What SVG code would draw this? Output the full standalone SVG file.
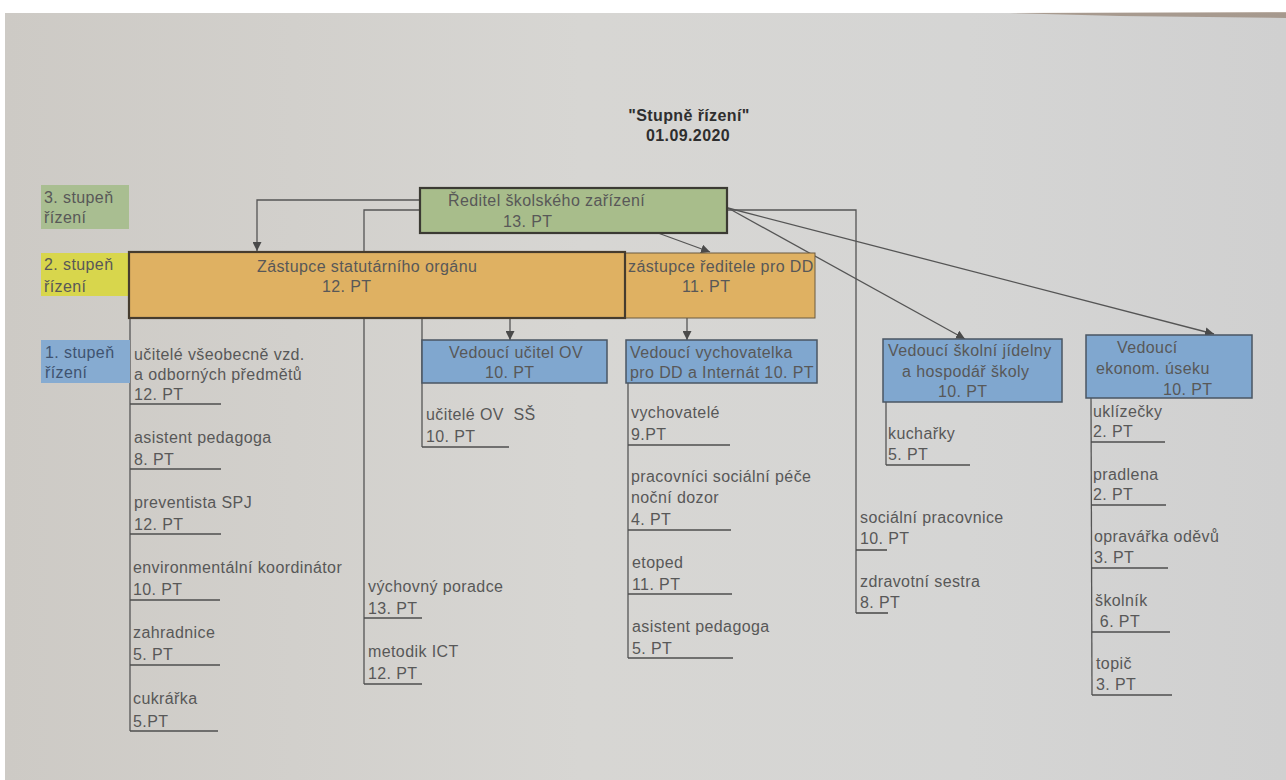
<svg xmlns="http://www.w3.org/2000/svg" width="1286" height="780" viewBox="0 0 1286 780">
<defs>
<linearGradient id="paper" x1="0" y1="0" x2="1" y2="0">
<stop offset="0" stop-color="#cdcac5"/>
<stop offset="0.45" stop-color="#d7d6d3"/>
<stop offset="0.75" stop-color="#d5d5d4"/>
<stop offset="1" stop-color="#d0d0d0"/>
</linearGradient>
<marker id="arr" markerWidth="9" markerHeight="9" refX="9" refY="4.5" orient="auto" markerUnits="userSpaceOnUse">
<path d="M0,0 L9,4.5 L0,9 z" fill="#4a4a4a"/>
</marker>
</defs>
<style>
text{font-family:"Liberation Sans",Arial,sans-serif;font-size:16px;letter-spacing:0.4px;fill:#585858}
.title{font-weight:bold;fill:#2e2e2e;text-anchor:middle}
.ln{fill:none;stroke:#555;stroke-width:1.3}
.ul{stroke:#4e4e4e;stroke-width:1.6}
.green{fill:#a8bd8b;stroke:#3b3a33;stroke-width:2.2}
.orange{fill:#dfb162;stroke:#463c2e;stroke-width:2.2}
.orange2{fill:#dfb162;stroke:#6a5a40;stroke-width:1}
.blue{fill:#80a7cf;stroke:#4a5663;stroke-width:1.5}
.lgreen{fill:#a9be91}
.lyellow{fill:#d8d64c}
.lblue{fill:#86abd1}
.btxt{fill:#3f5370}
</style>
<rect x="0" y="0" width="1286" height="780" fill="#ffffff"/>
<rect x="5" y="13" width="1281" height="767" fill="url(#paper)"/>
<path d="M1010,13 L1286,12 L1286,18 L1120,16 Z" fill="#8b7563" opacity="0.6"/>

<g id="title">
<text class="title" x="689" y="121">"Stupně řízení"</text>
<text class="title" x="688" y="141">01.09.2020</text>
</g>

<g id="connectors">
<polyline class="ln" points="420,200 257,200 257,251" marker-end="url(#arr)"/>
<polyline class="ln" points="420,210 364,210 364,684"/>
<line class="ln" x1="422" y1="318" x2="422" y2="447"/>
<line class="ln" x1="510" y1="318" x2="510" y2="340" marker-end="url(#arr)"/>
<line class="ln" x1="687" y1="318" x2="687" y2="340" marker-end="url(#arr)"/>
<line class="ln" x1="658" y1="233" x2="710" y2="252" marker-end="url(#arr)"/>
<polyline class="ln" points="728,210 856,210 856,613"/>
<line class="ln" x1="728" y1="208" x2="965" y2="339" marker-end="url(#arr)"/>
<line class="ln" x1="728" y1="208" x2="1214" y2="334" marker-end="url(#arr)"/>
<line class="ln" x1="130" y1="318" x2="130" y2="731"/>
<line class="ln" x1="628" y1="383" x2="628" y2="658"/>
<line class="ln" x1="886" y1="402" x2="886" y2="465"/>
<line class="ln" x1="1091" y1="398" x2="1092" y2="695"/>
</g>

<g id="level3">
<rect class="lgreen" x="41" y="185" width="88" height="44"/>
<text x="44" y="203">3. stupeň</text>
<text x="44" y="223">řízení</text>
</g>
<g id="level2">
<rect class="lyellow" x="41" y="253" width="88" height="43"/>
<text x="44" y="270">2. stupeň</text>
<text x="44" y="292">řízení</text>
</g>
<g id="level1">
<rect class="lblue" x="41" y="340" width="89" height="43"/>
<text class="btxt" x="45" y="358">1. stupeň</text>
<text class="btxt" x="45" y="378">řízení</text>
</g>

<g id="reditel">
<rect class="green" x="420" y="188" width="307" height="45"/>
<text x="448" y="206">Ředitel školského zařízení</text>
<text x="503" y="227">13. PT</text>
</g>

<g id="zastupce-dd">
<rect class="orange2" x="625" y="253" width="190" height="65"/>
<text x="628" y="272">zástupce ředitele pro DD</text>
<text x="682" y="292">11. PT</text>
</g>

<g id="zastupce-statutar">
<rect class="orange" x="129" y="252" width="496" height="66"/>
<text x="257" y="272">Zástupce statutárního orgánu</text>
<text x="322" y="292">12. PT</text>
</g>

<g id="vedouci-ov">
<rect class="blue" x="422" y="340" width="185" height="43"/>
<text x="449" y="358">Vedoucí učitel OV</text>
<text x="485" y="378">10. PT</text>
</g>

<g id="vedouci-vychovatelka">
<rect class="blue" x="626" y="340" width="191" height="43"/>
<text x="630" y="358">Vedoucí vychovatelka</text>
<text x="630" y="378">pro DD a Internát 10. PT</text>
</g>

<g id="vedouci-jidelny">
<rect class="blue" x="883" y="339" width="179" height="63"/>
<text x="888" y="356">Vedoucí školní jídelny</text>
<text x="902" y="377">a hospodář školy</text>
<text x="938" y="397">10. PT</text>
</g>

<g id="vedouci-ekonom">
<rect class="blue" x="1086" y="335" width="166" height="63"/>
<text x="1117" y="353">Vedoucí</text>
<text x="1096" y="374">ekonom. úseku</text>
<text x="1163" y="395">10. PT</text>
</g>

<g id="ucitele-vseobecne">
<text x="134" y="360">učitelé všeobecně vzd.</text>
<text x="134" y="380">a odborných předmětů</text>
<text x="134" y="400">12. PT</text>
<line class="ul" x1="130" y1="404" x2="221" y2="404"/>
</g>
<g id="asistent-pedagoga-1">
<text x="134" y="443">asistent pedagoga</text>
<text x="134" y="465">8. PT</text>
<line class="ul" x1="130" y1="469" x2="221" y2="469"/>
</g>
<g id="preventista">
<text x="134" y="508">preventista SPJ</text>
<text x="134" y="530">12. PT</text>
<line class="ul" x1="130" y1="534" x2="221" y2="534"/>
</g>
<g id="environmentalni">
<text x="133" y="573">environmentální koordinátor</text>
<text x="133" y="595">10. PT</text>
<line class="ul" x1="130" y1="600" x2="220" y2="600"/>
</g>
<g id="zahradnice">
<text x="133" y="638">zahradnice</text>
<text x="133" y="660">5. PT</text>
<line class="ul" x1="130" y1="665" x2="220" y2="665"/>
</g>
<g id="cukrarka">
<text x="133" y="704">cukrářka</text>
<text x="133" y="727">5.PT</text>
<line class="ul" x1="130" y1="731" x2="218" y2="731"/>
</g>

<g id="vychovny-poradce">
<text x="368" y="592">výchovný poradce</text>
<text x="368" y="614">13. PT</text>
<line class="ul" x1="364" y1="618" x2="422" y2="618"/>
</g>
<g id="metodik-ict">
<text x="368" y="657">metodik ICT</text>
<text x="368" y="679">12. PT</text>
<line class="ul" x1="364" y1="684" x2="422" y2="684"/>
</g>

<g id="ucitele-ov">
<text x="426" y="420" xml:space="preserve">učitelé OV  SŠ</text>
<text x="426" y="442">10. PT</text>
<line class="ul" x1="422" y1="447" x2="509" y2="447"/>
</g>

<g id="vychovatele">
<text x="631" y="418">vychovatelé</text>
<text x="631" y="440">9.PT</text>
<line class="ul" x1="628" y1="445" x2="730" y2="445"/>
</g>
<g id="pracovnici-socialni-pece">
<text x="631" y="482">pracovníci sociální péče</text>
<text x="631" y="503">noční dozor</text>
<text x="631" y="525">4. PT</text>
<line class="ul" x1="628" y1="530" x2="731" y2="530"/>
</g>
<g id="etoped">
<text x="632" y="568">etoped</text>
<text x="632" y="590">11. PT</text>
<line class="ul" x1="628" y1="594" x2="732" y2="594"/>
</g>
<g id="asistent-pedagoga-2">
<text x="632" y="632">asistent pedagoga</text>
<text x="632" y="654">5. PT</text>
<line class="ul" x1="628" y1="658" x2="733" y2="658"/>
</g>

<g id="kucharky">
<text x="888" y="439">kuchařky</text>
<text x="888" y="460">5. PT</text>
<line class="ul" x1="886" y1="465" x2="970" y2="465"/>
</g>

<g id="socialni-pracovnice">
<text x="860" y="523">sociální pracovnice</text>
<text x="860" y="544">10. PT</text>
<line class="ul" x1="856" y1="550" x2="887" y2="550"/>
</g>
<g id="zdravotni-sestra">
<text x="860" y="587">zdravotní sestra</text>
<text x="860" y="608">8. PT</text>
<line class="ul" x1="856" y1="613" x2="888" y2="613"/>
</g>

<g id="uklizecky">
<text x="1093" y="417">uklízečky</text>
<text x="1093" y="437">2. PT</text>
<line class="ul" x1="1091" y1="442" x2="1165" y2="442"/>
</g>
<g id="pradlena">
<text x="1093" y="480">pradlena</text>
<text x="1093" y="500">2. PT</text>
<line class="ul" x1="1091" y1="505" x2="1166" y2="505"/>
</g>
<g id="opravarka">
<text x="1094" y="542">opravářka oděvů</text>
<text x="1094" y="563">3. PT</text>
<line class="ul" x1="1091" y1="568" x2="1168" y2="568"/>
</g>
<g id="skolnik">
<text x="1095" y="606">školník</text>
<text x="1095" y="627" xml:space="preserve"> 6. PT</text>
<line class="ul" x1="1092" y1="632" x2="1170" y2="632"/>
</g>
<g id="topic">
<text x="1096" y="669">topič</text>
<text x="1096" y="690">3. PT</text>
<line class="ul" x1="1092" y1="695" x2="1172" y2="695"/>
</g>
</svg>
